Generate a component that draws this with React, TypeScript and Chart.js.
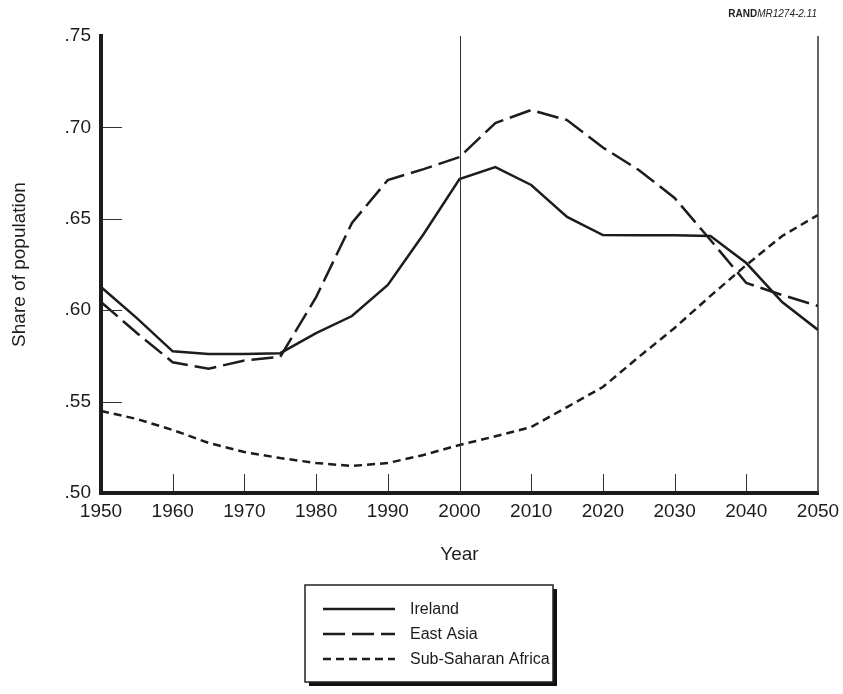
import React, { useEffect, useRef } from 'react';
import { Chart, registerables } from 'chart.js';

Chart.register(...registerables);

// ---- data ----
const years = [1950, 1955, 1960, 1965, 1970, 1975, 1980, 1985, 1990, 1995, 2000, 2005, 2010, 2015, 2020, 2025, 2030, 2035, 2040, 2045, 2050];
const ireland = [0.6127, 0.5957, 0.5775, 0.576, 0.576, 0.5765, 0.5875, 0.5968, 0.6138, 0.6417, 0.6718, 0.6783, 0.6685, 0.651, 0.6411, 0.641, 0.641, 0.6406, 0.6258, 0.6045, 0.5892];
const eastAsia = [0.6045, 0.5875, 0.5715, 0.568, 0.5725, 0.5745, 0.6072, 0.6477, 0.6712, 0.6772, 0.6838, 0.7024, 0.7095, 0.704, 0.689, 0.6767, 0.6614, 0.6384, 0.6149, 0.6083, 0.6023];
const subSaharan = [0.5449, 0.5405, 0.5345, 0.5274, 0.5224, 0.5191, 0.5164, 0.5148, 0.5164, 0.5208, 0.5263, 0.531, 0.5361, 0.547, 0.558, 0.5744, 0.5903, 0.6078, 0.6247, 0.6406, 0.6521];
const seriesNames = ['Ireland', 'East Asia', 'Sub-Saharan Africa'];
const xTickValues = [1950, 1960, 1970, 1980, 1990, 2000, 2010, 2020, 2030, 2040, 2050];
const yTickValues = [0.5, 0.55, 0.6, 0.65, 0.7, 0.75];
const yTickLabels = ['.50', '.55', '.60', '.65', '.70', '.75'];
const xInnerTicks = [1960, 1970, 1980, 1990, 2010, 2020, 2030, 2040];
const yInnerTicks = [0.55, 0.6, 0.65, 0.7];
const markerYear = 2000;
const sourceBold = 'RAND';
const sourceItalic = 'MR1274-2.11';
const xTitle = 'Year';
const yTitle = 'Share of population';

const INK = '#1c1c1c';
const FONT = '"Liberation Sans", Arial, Helvetica, sans-serif';
const dashes: number[][] = [[], [22, 7], [8, 5]];

const decorPlugin = {
  id: 'decor',
  afterDatasetsDraw(chart: any) {
    const { ctx, chartArea, scales } = chart;
    const x = scales.x;
    const y = scales.y;
    ctx.save();
    ctx.strokeStyle = '#333';
    ctx.lineWidth = 1;
    const mx = Math.round(x.getPixelForValue(markerYear)) + 0.5;
    ctx.beginPath();
    ctx.moveTo(mx, chartArea.top);
    ctx.lineTo(mx, chartArea.bottom);
    ctx.stroke();
    ctx.lineWidth = 1.5;
    const rx = x.getPixelForValue(2050);
    ctx.beginPath();
    ctx.moveTo(rx, chartArea.top);
    ctx.lineTo(rx, chartArea.bottom);
    ctx.stroke();
    ctx.lineWidth = 1;
    for (const v of yInnerTicks) {
      const py = Math.round(y.getPixelForValue(v)) + 0.5;
      ctx.beginPath();
      ctx.moveTo(chartArea.left + 2, py);
      ctx.lineTo(chartArea.left + 21, py);
      ctx.stroke();
    }
    for (const v of xInnerTicks) {
      const px = Math.round(x.getPixelForValue(v)) + 0.5;
      ctx.beginPath();
      ctx.moveTo(px, chartArea.bottom - 2);
      ctx.lineTo(px, chartArea.bottom - 19);
      ctx.stroke();
    }
    ctx.restore();
  },
  afterDraw(chart: any) {
    const { ctx } = chart;
    ctx.save();
    ctx.fillStyle = INK;
    ctx.textBaseline = 'alphabetic';
    ctx.textAlign = 'left';
    ctx.font = `italic 10px ${FONT}`;
    const wi = ctx.measureText(sourceItalic).width;
    const rightEdge = 817;
    ctx.fillText(sourceItalic, rightEdge - wi, 17);
    ctx.font = `bold 10px ${FONT}`;
    const wb = ctx.measureText(sourceBold).width;
    ctx.fillText(sourceBold, rightEdge - wi - wb, 17);

    const bx = 305, by = 585, bw = 248, bh = 97;
    ctx.fillStyle = '#111';
    ctx.fillRect(bx + 4, by + 4, bw, bh);
    ctx.fillStyle = '#fff';
    ctx.fillRect(bx, by, bw, bh);
    ctx.strokeStyle = '#222';
    ctx.lineWidth = 1.5;
    ctx.strokeRect(bx, by, bw, bh);
    const rows = [609, 634, 659];
    chart.data.datasets.forEach((ds: any, i: number) => {
      const ry = rows[i];
      ctx.strokeStyle = INK;
      ctx.lineWidth = 2.5;
      ctx.setLineDash(ds.borderDash || []);
      ctx.beginPath();
      ctx.moveTo(323, ry);
      ctx.lineTo(395, ry);
      ctx.stroke();
      ctx.setLineDash([]);
      ctx.fillStyle = INK;
      ctx.font = `16px ${FONT}`;
      ctx.textAlign = 'left';
      ctx.textBaseline = 'middle';
      ctx.fillText(ds.label, 410, ry + 1);
    });
    ctx.restore();
  },
};

export default function App() {
  const ref = useRef<HTMLCanvasElement | null>(null);
  useEffect(() => {
    document.body.style.margin = '0';
    document.body.style.overflow = 'hidden';
    const canvas = ref.current;
    if (!canvas) return;
    const series = [ireland, eastAsia, subSaharan];
    const chart = new Chart(canvas, {
      type: 'line',
      data: {
        datasets: series.map((vals, i) => ({
          label: seriesNames[i],
          data: years.map((yr, j) => ({ x: yr, y: vals[j] })),
          borderColor: INK,
          borderWidth: 2.5,
          borderDash: dashes[i],
          pointRadius: 0,
          tension: 0,
          fill: false,
        })),
      },
      options: {
        animation: false,
        responsive: false,
        devicePixelRatio: 1,
        layout: { padding: { left: 0, right: 25, top: 36, bottom: 124 } },
        plugins: { legend: { display: false }, tooltip: { enabled: false }, title: { display: false } },
        scales: {
          x: {
            type: 'linear',
            min: 1950,
            max: 2050,
            afterBuildTicks: (s: any) => { s.ticks = xTickValues.map((v) => ({ value: v })); },
            afterFit: (s: any) => { s.height = 77; s.paddingLeft = 0; s.paddingRight = 0; },
            ticks: { font: { family: FONT, size: 19 }, color: INK, padding: 7, maxRotation: 0, autoSkip: false, callback: (v: any) => String(v) },
            grid: { display: false, drawTicks: false },
            border: { display: true, width: 4, color: INK },
            title: { display: true, text: xTitle, font: { family: FONT, size: 19 }, color: INK, padding: { top: 4, bottom: 4 } },
          },
          y: {
            type: 'linear',
            min: 0.5,
            max: 0.75,
            afterBuildTicks: (s: any) => { s.ticks = yTickValues.map((v) => ({ value: v })); },
            afterFit: (s: any) => { s.width = 101; s.paddingTop = 0; s.paddingBottom = 0; },
            ticks: { font: { family: FONT, size: 19 }, color: INK, padding: 10, autoSkip: false, callback: (_v: any, i: number) => yTickLabels[i] },
            grid: { display: false, drawTicks: false },
            border: { display: true, width: 4, color: INK },
            title: { display: true, text: yTitle, font: { family: FONT, size: 19 }, color: INK, padding: { top: 8, bottom: 4 } },
          },
        },
      },
      plugins: [decorPlugin],
    } as any);
    return () => chart.destroy();
  }, []);
  return <canvas ref={ref} width={843} height={694} style={{ display: 'block', width: 843, height: 694 }} />;
}
